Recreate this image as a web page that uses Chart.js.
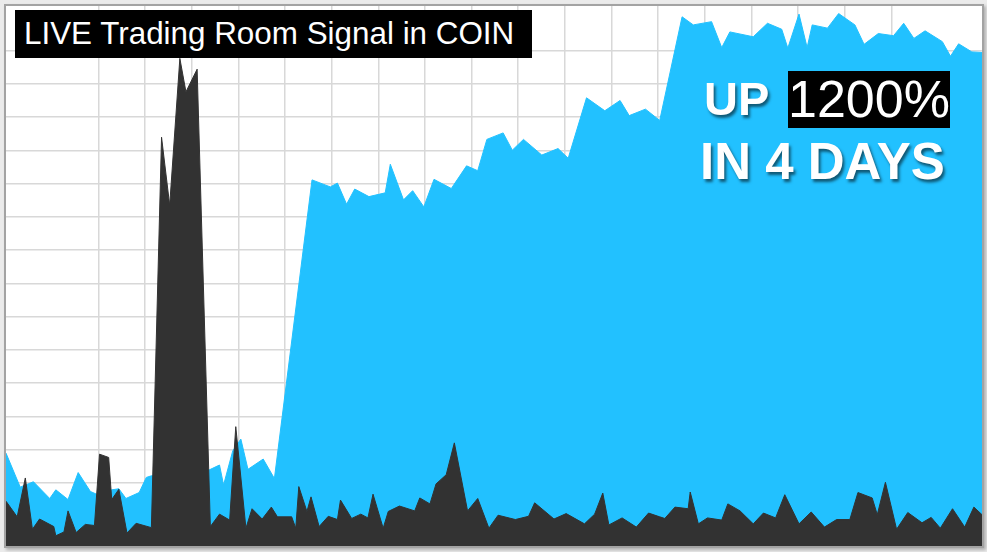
<!DOCTYPE html>
<html>
<head>
<meta charset="utf-8">
<script src="https://cdn.jsdelivr.net/npm/chart.js@4"></script>
<style>
  body { margin: 0; background: #ebebeb; width: 987px; height: 552px; overflow: hidden; position: relative; font-family: "Liberation Sans", Arial, sans-serif; }
  #frame { position: absolute; left: 4px; top: 4px; width: 976px; height: 540px; border: 2px solid #a3a3a3; background: #fff; box-shadow: 2px 2px 3px rgba(0,0,0,0.25); }
  canvas { position: absolute; left: 0; top: 0; }
  .label { position: absolute; color: #fff; white-space: nowrap; }
  #title { left: 15px; top: 10px; width: 508px; height: 48px; line-height: 48px; padding-left: 9px; background: #000; font-size: 31.4px; }
  #up { left: 704px; top: 75px; font-size: 47px; line-height: 47px; font-weight: bold; text-shadow: 2px 3px 3px rgba(0,0,0,0.55); }
  #pct { left: 788px; top: 71px; width: 162px; height: 57px; line-height: 57px; background: #000; font-size: 52px; }
  #days { left: 700px; top: 136px; font-size: 51px; line-height: 51px; font-weight: bold; text-shadow: 2px 3px 3px rgba(0,0,0,0.55); }
</style>
</head>
<body>
<div id="frame"></div>
<canvas id="coinChart" width="987" height="552"></canvas>
<div class="label" id="title">LIVE Trading Room Signal in COIN</div>
<div class="label" id="up">UP</div>
<div class="label" id="pct">1200%</div>
<div class="label" id="days">IN 4 DAYS</div>
<script>
// time in hours over the 4 days, values as % of chart height
const priceHours = [0, 1.4, 2.7, 4.3, 4.9, 6.1, 7.1, 8.3, 8.9, 10.4, 11.1, 11.8, 13.1, 13.8, 14.3, 17.1,
  20.0, 21.0, 21.4, 22.3, 23.1, 23.8, 25.3, 26.4, 30.1, 31.9, 32.6, 33.5, 34.3, 35.7, 37.3, 37.8,
  39.1, 40.0, 41.1, 42.1, 43.8, 45.3, 46.4, 47.3, 48.9, 49.8, 50.9, 52.7, 54.3, 55.3, 57.1, 58.9,
  60.4, 61.3, 62.9, 64.3, 66.5, 67.6, 69.4, 70.4, 71.2, 73.5, 74.9, 76.3, 76.9, 78.0, 78.8, 79.3,
  80.8, 81.9, 83.5, 84.4, 85.8, 87.3, 88.3, 89.3, 90.4, 92.1, 92.9, 93.7, 95.0, 96.0];
const priceValues = [17.2, 10.9, 11.9, 8.8, 10.4, 8.6, 13.6, 10.1, 9.6, 10.4, 10.6, 8.8, 9.9, 12.7, 13.0, 13.3,
  14.1, 15.0, 11.3, 17.6, 19.8, 14.2, 16.1, 12.5, 67.8, 66.5, 67.2, 63.3, 66.1, 64.7, 65.4, 70.7,
  64.1, 65.8, 62.8, 67.9, 66.2, 70.4, 69.5, 75.3, 76.5, 73.3, 75.3, 72.4, 73.6, 71.8, 83.0, 80.6,
  82.5, 79.7, 80.9, 78.8, 98.0, 96.5, 97.1, 92.3, 95.2, 94.3, 96.8, 95.7, 92.2, 98.5, 92.3, 96.5,
  95.9, 98.6, 96.5, 92.9, 94.9, 94.5, 96.8, 94.0, 95.4, 93.4, 90.7, 93.0, 91.5, 91.4];

const volumeHours = [0, 1.1, 1.9, 2.6, 3.3, 4.7, 4.9, 5.7, 6.1, 6.9, 7.8, 8.7, 9.2, 10.1, 10.4, 11.1,
  11.9, 12.8, 14.3, 15.3, 16.1, 17.1, 17.7, 18.8, 20.1, 21.0, 22.0, 22.6, 23.6, 24.2, 25.2, 26.1,
  26.7, 28.1, 28.5, 28.8, 29.6, 30.0, 30.8, 31.7, 32.6, 32.9, 34.0, 34.9, 35.6, 36.1, 37.1, 37.6,
  38.7, 40.2, 40.7, 41.7, 42.3, 43.3, 44.1, 45.4, 46.4, 47.5, 48.4, 50.1, 51.4, 52.0, 53.9, 55.1,
  56.9, 57.9, 58.7, 59.3, 60.6, 62.0, 63.2, 64.3, 64.8, 65.8, 67.1, 67.3, 68.1, 69.0, 70.4, 71.0,
  72.2, 73.5, 74.5, 75.7, 76.6, 78.0, 79.2, 80.5, 81.7, 83.0, 83.8, 85.2, 85.7, 86.5, 87.6, 88.7,
  90.1, 91.0, 91.9, 93.1, 94.3, 95.2, 96.0];
const volumeValues = [8.3, 5.4, 12.6, 3.1, 5.0, 3.6, 1.9, 2.6, 6.5, 2.5, 4.0, 3.8, 17.0, 16.4, 8.6, 10.5,
  2.4, 4.2, 3.4, 75.7, 63.1, 90.3, 84.1, 88.3, 3.6, 5.9, 4.8, 22.1, 3.3, 6.9, 5.0, 7.2,
  5.4, 5.4, 3.3, 11.0, 6.4, 9.1, 3.6, 5.5, 4.9, 8.5, 5.1, 5.9, 5.2, 9.6, 3.3, 6.4,
  7.4, 6.5, 8.9, 7.8, 11.5, 13.2, 19.1, 6.5, 8.8, 3.3, 5.7, 4.9, 5.5, 8.0, 5.0, 6.0,
  4.1, 5.9, 9.8, 3.9, 5.2, 3.5, 6.1, 5.4, 5.1, 7.2, 6.9, 10.0, 4.1, 5.2, 4.8, 7.8,
  6.5, 4.1, 6.1, 5.2, 9.5, 4.1, 6.3, 3.5, 4.9, 4.9, 9.9, 8.9, 5.8, 11.8, 3.1, 6.2,
  4.3, 5.3, 3.3, 6.9, 3.5, 7.2, 5.8];

const toPoints = (xs, ys) => xs.map((x, i) => ({ x: x, y: ys[i] }));

let ctx = document.getElementById("coinChart");

let coinChart = new Chart(ctx, {
  type: "line",
  data: {
    datasets: [
      {
        label: "Volume",
        data: toPoints(volumeHours, volumeValues),
        backgroundColor: "#323232",
        borderColor: "#323232",
        borderWidth: 1,
        fill: "origin",
      },
      {
        label: "COIN",
        data: toPoints(priceHours, priceValues),
        backgroundColor: "#22c1ff",
        borderColor: "#22c1ff",
        borderWidth: 1,
        fill: "origin",
      },
    ],
  },
  options: {
    responsive: false,
    animation: false,
    devicePixelRatio: 1,
    layout: { padding: { left: 6, top: 6, right: 5, bottom: 6 } },
    elements: { point: { radius: 0 }, line: { tension: 0 } },
    plugins: { legend: { display: false }, tooltip: { enabled: false } },
    scales: {
      x: { type: "linear", min: 0, max: 96, display: false },
      y: { type: "linear", min: 0, max: 100, display: false },
      // background grid
      gx: {
        type: "linear",
        axis: "x",
        position: "bottom",
        min: 0.015,
        max: 20.946,
        ticks: { display: false, stepSize: 1 },
        afterBuildTicks: (s) => { s.ticks = s.ticks.filter((t) => Number.isInteger(t.value)); },
        grid: { color: "#d8d8d8", lineWidth: 1.5, drawTicks: false },
        border: { display: false },
      },
      gy: {
        type: "linear",
        axis: "y",
        position: "left",
        min: 0.107,
        max: 16.338,
        ticks: { display: false, stepSize: 1 },
        afterBuildTicks: (s) => { s.ticks = s.ticks.filter((t) => Number.isInteger(t.value)); },
        grid: { color: "#d8d8d8", lineWidth: 1.5, drawTicks: false },
        border: { display: false },
      },
    },
  },
});
</script>
</body>
</html>
